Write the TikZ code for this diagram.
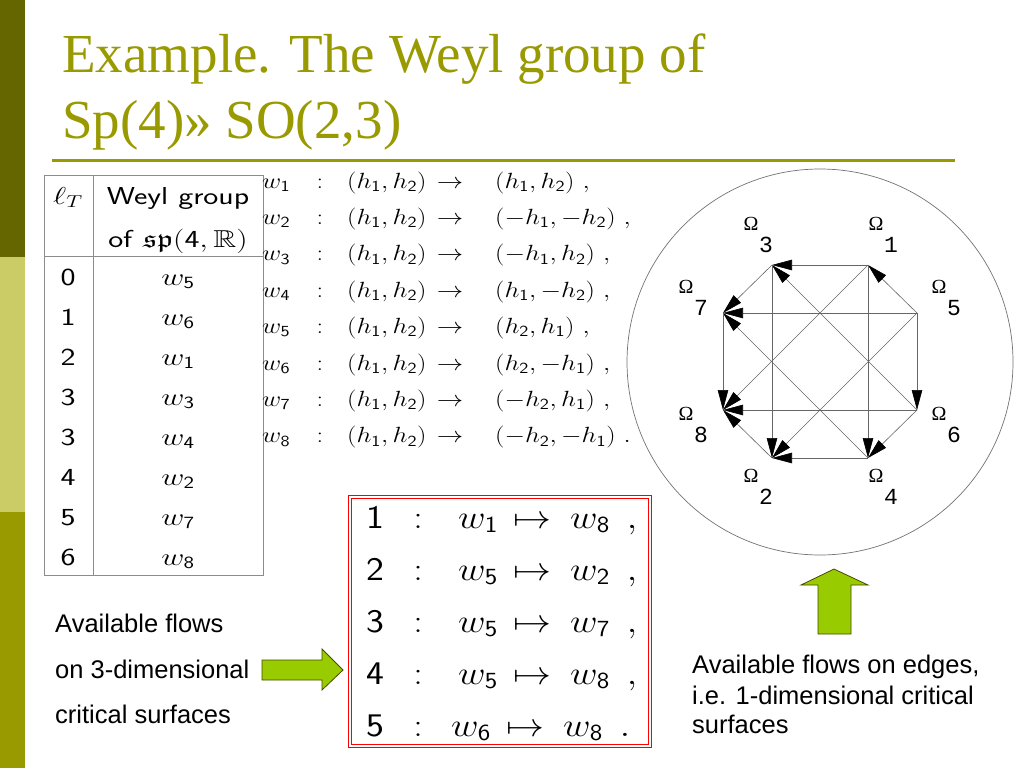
\RequirePackage{fix-cm}
\documentclass[tikz,border=0pt]{standalone}
\usepackage{amssymb}
\usepackage{graphicx}
\usepackage{fontspec}
\usetikzlibrary{arrows.meta}
\newfontfamily\titlefont{Liberation Serif}
\newfontfamily\bodyfont{Liberation Sans}
\newfontfamily\omegafont{Liberation Mono}
\definecolor{olivedark}{RGB}{102,102,0}
\definecolor{olivelight}{RGB}{204,204,102}
\definecolor{olivemid}{RGB}{153,153,0}
\definecolor{flowgreen}{RGB}{153,204,0}
\newcommand{\wi}[1]{w_{\mathsf{#1}}}
\newcommand{\hi}[1]{h_{\mathsf{#1}}}
\newcommand{\tabx}[1]{\scalebox{1.3}[1]{#1}}
\newcommand{\eqx}[1]{\scalebox{1.2}[1]{#1}}
\newcommand{\boxx}[1]{\scalebox{1.15}[1]{#1}}
\begin{document}
\begin{tikzpicture}[x=1pt, y=-1pt,
    txt/.style={inner sep=0pt, anchor=base},
    headline/.style={txt, anchor=base west, text=olivemid, font=\titlefont\fontsize{55}{66}\selectfont},
    bodytext/.style={txt, anchor=base west, font=\bodyfont\fontsize{25.5}{30}\selectfont},
    tabtext/.style={txt, font=\fontsize{24.5}{28}\selectfont},
    eqtext/.style={txt, font=\fontsize{22}{26}\selectfont},
    boxtext/.style={txt, font=\fontsize{33}{38}\selectfont},
    omega/.style={inner sep=0pt, font=\titlefont\fontsize{20}{22}\selectfont},
    omeganum/.style={inner sep=0pt, font=\omegafont\fontsize{23}{25}\selectfont},
    tablerule/.style={draw=black!45, line width=0.8pt},
    flowedge/.style={draw=black!60, line width=0.6pt, -{Triangle[length=20pt, width=10.5pt, color=black]}},
    greenarrow/.style={fill=flowgreen, draw=olivedark!70!black, line width=0.8pt}]
    \useasboundingbox (0,0) rectangle (1024,768);
    \fill[white] (0,0) rectangle (1024,768);
    \fill[olivedark] (0,0) rectangle (25,257);
    \fill[olivelight] (0,257) rectangle (25,512);
    \fill[olivemid] (0,512) rectangle (25,768);
    \node[headline] (title1) at (62,72) {Example. The Weyl group of};
    \node[headline] (title2) at (62,138) {Sp(4)» SO(2,3)};
    \draw[olivemid, line width=3pt] (52,160) -- (955,160);
    \draw[tablerule] (44,175) rectangle (263,575);
    \draw[tablerule] (93,175) -- (93,575);
    \draw[tablerule] (44,256) -- (263,256);
    \node[tabtext] (lT) at (68,204) {\tabx{$\ell_T$}};
    \node[tabtext] (weyl) at (178,204) {\tabx{\textsf{Weyl group}}};
    \node[tabtext] (spfour) at (178,247) {\tabx{\textsf{of} $\mathfrak{sp}(\mathsf{4},\mathbb{R})$}};
    \foreach \l/\w [count=\k from 0] in {0/5,1/6,2/1,3/3,3/4,4/2,5/7,6/8}
        {
            \node[tabtext] (len\k) at (68,{285+40*\k}) {\tabx{\textsf{\l}}};
            \node[tabtext] (elt\k) at (178,{285+40*\k}) {\tabx{$\wi{\w}$}};
        }
    \foreach \i/\res in {1/{(\hi1,\hi2)\ ,},2/{(-\hi1,-\hi2)\ ,},3/{(-\hi1,\hi2)\ ,},4/{(\hi1,-\hi2)\ ,},
                         5/{(\hi2,\hi1)\ ,},6/{(\hi2,-\hi1)\ ,},7/{(-\hi2,\hi1)\ ,},8/{(-\hi2,-\hi1)\ .}}
        {
            \node[eqtext, anchor=base west] (w\i) at (262,{188+36.4*(\i-1)}) {\eqx{$\wi{\i}$}};
            \node[eqtext] (colon\i) at (320,{188+36.4*(\i-1)}) {\eqx{$:$}};
            \node[eqtext, anchor=base west] (lhs\i) at (347,{188+36.4*(\i-1)}) {\eqx{$(\hi1,\hi2)$}};
            \node[eqtext] (to\i) at (450,{188+36.4*(\i-1)}) {\eqx{$\rightarrow$}};
            \node[eqtext, anchor=base west] (rhs\i) at (495,{188+36.4*(\i-1)}) {\eqx{$\res$}};
        }
    \draw[draw=red, double=white, double distance=2pt, line width=0.8pt] (350,497) rectangle (650,746);
    \foreach \k/\a/\b/\p/\dx in {1/1/8/{,}/0,2/5/2/{,}/0,3/5/7/{,}/0,4/5/8/{,}/0,5/6/8/{.}/-7}
        {
            \node[boxtext] (idx\k) at (375,{528+52*(\k-1)}) {\boxx{\textsf{\k}}};
            \node[boxtext] (sep\k) at (418,{528+52*(\k-1)}) {\boxx{$:$}};
            \node[boxtext, anchor=base west] (from\k) at ({458+\dx},{528+52*(\k-1)}) {\boxx{$\wi{\a}$}};
            \node[boxtext] (maps\k) at ({532+\dx},{528+52*(\k-1)}) {\boxx{$\mapsto$}};
            \node[boxtext, anchor=base west] (onto\k) at ({570+\dx},{528+52*(\k-1)}) {\boxx{$\wi{\b}$}};
            \node[boxtext] (punct\k) at ({632+\dx},{528+52*(\k-1)}) {\boxx{$\p$}};
        }
    \draw[black!55, line width=0.7pt] (820,362) circle[radius=193pt];
    \foreach \n/\x/\y in {1/868/265,3/772/265,5/917/313,7/723/313,6/917/410,8/723/410,2/772/458,4/868/458}
        \coordinate (v\n) at (\x,\y);
    \foreach \s/\t in {1/3,6/3,5/1,3/7,5/7,4/7,7/8,1/8,6/8,2/8,3/2,5/2,4/2,1/4,6/4,5/6}
        \draw[flowedge] (v\s) -- (v\t);
    \foreach \n/\x/\y in {3/751/224,1/876/224,7/686/287,5/939/287,8/686/414,6/939/414,2/751/476,4/876/476}
        {
            \node[omega] (om\n) at (\x,\y) {Ω};
            \node[omeganum] (num\n) at ([shift={(15,21)}]om\n.center) {\n};
        }
    \filldraw[greenarrow] (262,660) -- (322,660) -- (322,649) -- (343,670) -- (322,690) -- (322,680) -- (262,680) -- cycle;
    \filldraw[greenarrow] (818,634) -- (818,585) -- (801,585) -- (834,569) -- (868,585) -- (851,585) -- (851,634) -- cycle;
    \node[bodytext] (left1) at (55,632) {Available flows};
    \node[bodytext] (left2) at (55,678) {on 3-dimensional};
    \node[bodytext] (left3) at (55,723) {critical surfaces};
    \node[bodytext] (right1) at (692,673) {Available flows on edges,};
    \node[bodytext] (right2) at (692,704) {i.e. 1-dimensional critical};
    \node[bodytext] (right3) at (692,733) {surfaces};
\end{tikzpicture}
\end{document}
